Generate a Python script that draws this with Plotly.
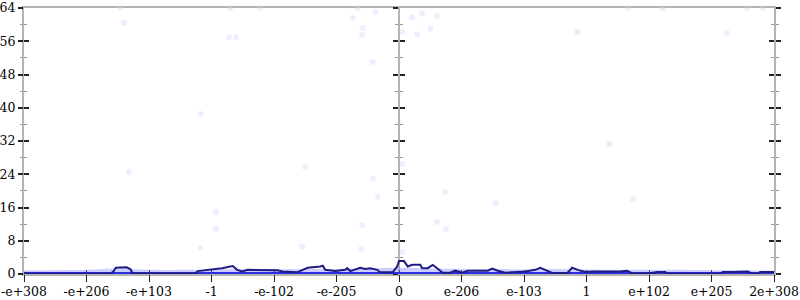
import plotly.graph_objects as go

# ---- data ----
TICK_POS = [-6, -5, -4, -3, -2, -1, 0, 1, 2, 3, 4, 5, 6]
TICK_TEXT = ["-e+308", "-e+206", "-e+103", "-1", "-e-102", "-e-205", "0",
             "e-206", "e-103", "1", "e+102", "e+205", "2e+308"]
Y_TICKS = [0, 8, 16, 24, 32, 40, 48, 56, 64]

LINE_X = [-6.00, -4.62, -4.57, -4.53, -4.36, -4.30, -4.26, -3.26, -3.22, -3.02,
          -2.83, -2.70, -2.66, -2.59, -2.51, -2.42, -2.06, -1.95, -1.86, -1.63,
          -1.54, -1.46, -1.26, -1.22, -1.18, -1.02, -0.86, -0.83, -0.78, -0.67,
          -0.62, -0.54, -0.46, -0.35, -0.30, -0.10, -0.03, 0.00, 0.08, 0.14,
          0.21, 0.34, 0.37, 0.46, 0.54, 0.61, 0.70, 0.82, 0.90, 1.01,
          1.10, 1.42, 1.49, 1.58, 1.70, 2.02, 2.18, 2.26, 2.34, 2.46,
          2.69, 2.77, 2.86, 2.98, 3.10, 3.54, 3.65, 3.74, 3.97, 4.14,
          4.26, 4.29, 5.14, 5.18, 5.34, 5.46, 5.58, 5.66, 5.73, 5.78, 6.00]
LINE_Y = [0.05, 0.05, 0.6, 1.5, 1.6, 1.2, 0.1, 0.1, 0.7, 1.0,
          1.4, 1.8, 1.9, 1.0, 0.6, 1.0, 1.0, 0.9, 0.6, 0.4,
          1.0, 1.5, 1.8, 2.0, 1.0, 0.7, 1.0, 1.4, 0.7, 1.2,
          1.5, 1.2, 1.4, 1.0, 0.4, 0.4, 1.8, 3.1, 3.1, 1.8,
          2.2, 2.2, 1.4, 1.4, 2.2, 1.4, 0.3, 0.3, 0.8, 0.3,
          0.8, 0.8, 1.3, 0.8, 0.3, 0.6, 1.0, 1.5, 1.0, 0.2,
          0.2, 1.5, 1.0, 0.5, 0.6, 0.6, 0.8, 0.1, 0.1, 0.5,
          0.5, 0.05, 0.05, 0.5, 0.5, 0.6, 0.6, 0.05, 0.05, 0.5, 0.5]

BAND_X = [-6.0, -5.0, -4.5, -4.0, -3.0, -2.5, -2.0, -1.5, -1.0, -0.5, 0.0,
          0.5, 1.0, 1.5, 2.0, 2.5, 3.0, 3.5, 4.0, 4.5, 5.0, 5.5, 6.0]
BAND_Y = [0.9, 1.0, 1.3, 1.0, 1.1, 1.2, 1.1, 1.2, 1.2, 1.3, 1.5,
          1.3, 1.2, 1.2, 1.1, 1.2, 1.1, 1.0, 1.0, 1.0, 0.9, 0.9, 0.8]

DOT_X = [-4.46, -4.40, -4.32, -1.50, -2.93, -2.93, -0.42, -0.34, -0.59, -1.55,
         -0.61, -3.18, 0.74, 0.61, 0.75, 1.54, 0.05, 0.05, 3.74, 5.25,
         3.36, -0.38, -0.58, -0.59, -0.42, 0.05, 0.21, 0.37, 0.29, 0.50,
         0.61, -0.74, -0.66, -2.72, -2.61, -3.17, 2.85, -2.70, -2.22, 3.66,
         4.22, 5.57, 5.82]
DOT_Y = [64.0, 60.4, 24.5, 25.7, 14.9, 10.8, 22.9, 18.5, 11.8, 6.7,
         6.0, 6.3, 19.7, 12.5, 10.8, 17.1, 26.5, 5.3, 18.0, 58.0,
         31.3, 63.0, 59.2, 57.5, 51.0, 58.2, 61.8, 62.6, 57.7, 59.0,
         62.1, 61.6, 64.0, 57.0, 57.0, 38.5, 58.2, 64.0, 64.0, 64.0,
         64.0, 64.0, 64.0]

FONT = "DejaVu Serif"
GREY = "#b4b4b4"

fig = go.Figure()
fig.add_trace(go.Scatter(x=DOT_X, y=DOT_Y, mode="markers", cliponaxis=False,
                         marker=dict(size=6, color="rgba(205,205,255,0.35)", line=dict(width=0)),
                         hoverinfo="skip"))
fig.add_trace(go.Scatter(x=BAND_X, y=BAND_Y, mode="lines", fill="tozeroy",
                         line=dict(width=0, shape="spline"), fillcolor="rgba(130,130,255,0.4)",
                         hoverinfo="skip"))
fig.add_trace(go.Scatter(x=[BAND_X[0], BAND_X[-1]], y=[0, 0], mode="lines", cliponaxis=False,
                         line=dict(color="rgb(45,45,225)", width=4), hoverinfo="skip"))
fig.add_trace(go.Scatter(x=LINE_X, y=LINE_Y, mode="lines", cliponaxis=False,
                         line=dict(color="rgb(28,28,130)", width=2), hoverinfo="skip"))

yr = [0, 64]
common = dict(range=yr, tickvals=Y_TICKS, showgrid=False, zeroline=False,
              linecolor=GREY, linewidth=2, tickcolor="#222", tickwidth=1.5,
              layer="below traces", automargin=False)
minor = dict(dtick=4, ticklen=3, tickcolor="#999", tickwidth=1)

fig.update_layout(
    width=800, height=300,
    margin=dict(l=24, r=26, t=8, b=26, autoexpand=False),
    paper_bgcolor="white", plot_bgcolor="white",
    showlegend=False,
    font=dict(family=FONT, size=12, color="black"),
    xaxis=dict(range=[-6, 6], tickvals=TICK_POS, ticktext=TICK_TEXT,
               showgrid=False, zeroline=False, showline=True, mirror=True,
               linecolor=GREY, linewidth=2, ticks="inside", ticklen=4,
               tickcolor="#222", tickwidth=1.2, layer="below traces", automargin=False,
               ticklabelstandoff=5,
               tickfont=dict(family=FONT, size=12.5, color="black")),
    xaxis2=dict(range=[-6, 6], overlaying="x", anchor="y", side="bottom",
                tickvals=TICK_POS, showticklabels=False, ticks="outside", ticklen=7,
                tickcolor="#222", tickwidth=1.2, showgrid=False, zeroline=False,
                showline=False, automargin=False),
    yaxis=dict(**common, side="left", showline=True, ticks="inside", ticklen=5,
               minor=dict(**minor, ticks="inside"), ticklabelstandoff=4,
               tickfont=dict(family=FONT, size=12.5, color="black")),
    yaxis2=dict(**common, overlaying="y", side="left", anchor="x", showline=False,
                ticks="outside", ticklen=5, showticklabels=False,
                minor=dict(**minor, ticks="outside")),
    yaxis3=dict(**common, overlaying="y", anchor="free", position=0.5, side="left",
                showline=True, ticks="outside", ticklen=5, showticklabels=False,
                minor=dict(**minor, ticks="outside")),
    yaxis4=dict(**common, overlaying="y", anchor="free", position=0.5, side="left",
                showline=False, ticks="inside", ticklen=5, showticklabels=False,
                minor=dict(**minor, ticks="inside")),
    yaxis5=dict(**common, overlaying="y", anchor="x", side="right",
                showline=True, ticks="outside", ticklen=5, showticklabels=False,
                minor=dict(**minor, ticks="outside")),
    yaxis6=dict(**common, overlaying="y", anchor="x", side="right",
                showline=False, ticks="inside", ticklen=5, showticklabels=False,
                minor=dict(**minor, ticks="inside")),
)

# invisible traces to make the overlay axes render
for ya in ["y2", "y3", "y4", "y5", "y6"]:
    fig.add_trace(go.Scatter(x=[None], y=[None], yaxis=ya, xaxis="x", mode="markers",
                             showlegend=False, hoverinfo="skip"))
fig.add_trace(go.Scatter(x=[None], y=[None], xaxis="x2", yaxis="y", mode="markers",
                         showlegend=False, hoverinfo="skip"))

fig.write_html("out.html")
